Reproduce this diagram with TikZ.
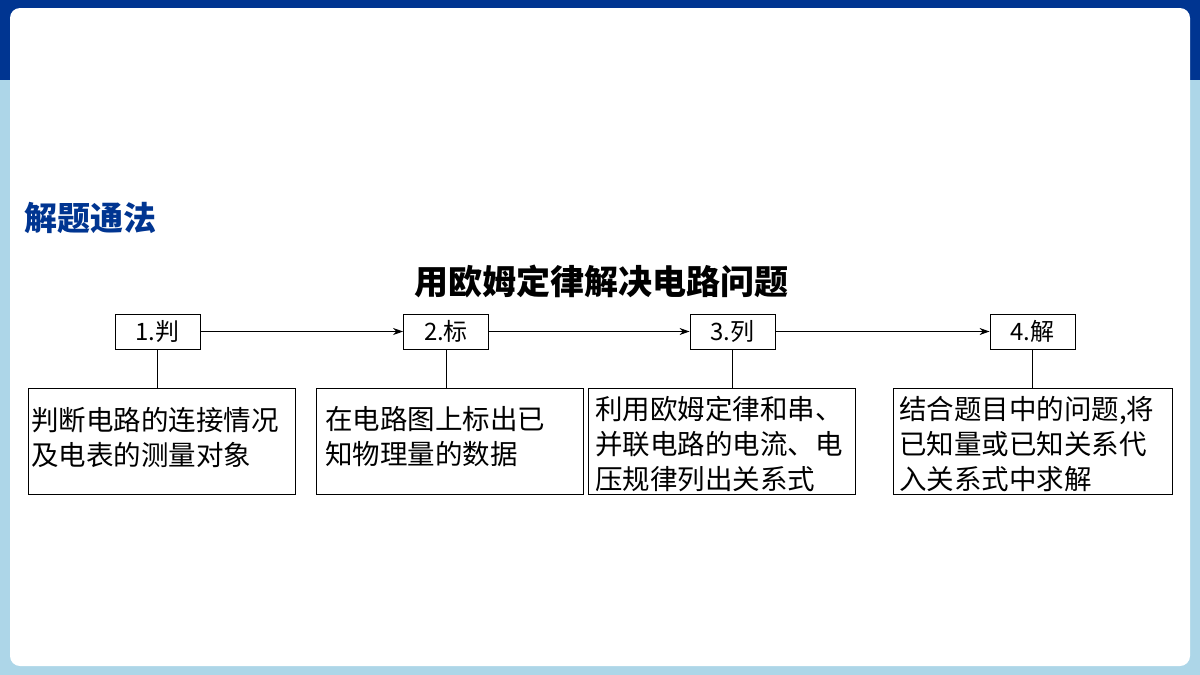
\documentclass[tikz,border=0pt]{standalone}
\usepackage{fontspec}
\newfontfamily\cjk{Noto Sans CJK SC}
\usetikzlibrary{arrows.meta}
\definecolor{dblue}{HTML}{003591}
\definecolor{lblue}{HTML}{ADD6E8}
\begin{document}
\begin{tikzpicture}[x=1pt,y=-1pt,
 lab/.style={draw,line width=0.9pt,minimum width=85pt,minimum height=35pt,inner sep=0,font=\cjk\fontsize{24}{26}\selectfont},
 big/.style={draw,line width=0.9pt,anchor=north west,minimum height=106pt,inner sep=0},
 txt/.style={anchor=west,align=left,inner sep=0,font=\cjk\fontsize{27.5}{35}\selectfont},
 arr/.style={-{Stealth[length=10pt,width=7pt]},line width=0.8pt}]
\fill[lblue] (0,0) rectangle (1200,675);
\fill[dblue] (0,0) rectangle (1200,80);
\fill[white,rounded corners=10pt] (10,8) rectangle (1190,666);
\node[anchor=west,text=dblue,font=\cjk\bfseries\fontsize{33}{36}\selectfont] (h) at (21,218) {解题通法};
\node[font=\cjk\bfseries\fontsize{34}{38}\selectfont] (t) at (601,281) {用欧姆定律解决电路问题};
\node[lab] (l1) at (157.5,331.5) {1.判};
\node[lab] (l2) at (446,331.5) {2.标};
\node[lab] (l3) at (732.5,331.5) {3.列};
\node[lab] (l4) at (1032.5,331.5) {4.解};
\node[big,minimum width=267pt] (b1) at (28,388) {};
\node[big,minimum width=267pt] (b2) at (316,388) {};
\node[big,minimum width=267pt] (b3) at (588,388) {};
\node[big,minimum width=279pt] (b4) at (893,388) {};
\node[txt] (t1) at (31,437) {判断电路的连接情况\\及电表的测量对象};
\node[txt] (t2) at (325,437) {在电路图上标出已\\知物理量的数据};
\node[txt] (t3) at (595,444) {利用欧姆定律和串、\\并联电路的电流、电\\压规律列出关系式};
\node[txt] (t4) at (899,444) {结合题目中的问题,将\\已知量或已知关系代\\入关系式中求解};
\draw[arr] (l1) -- (l2);
\draw[arr] (l2) -- (l3);
\draw[arr] (l3) -- (l4);
\draw[line width=0.9pt] (l1.south) -- (l1.south|-b1.north);
\draw[line width=0.9pt] (l2.south) -- (l2.south|-b2.north);
\draw[line width=0.9pt] (l3.south) -- (l3.south|-b3.north);
\draw[line width=0.9pt] (l4.south) -- (l4.south|-b4.north);
\end{tikzpicture}
\end{document}
